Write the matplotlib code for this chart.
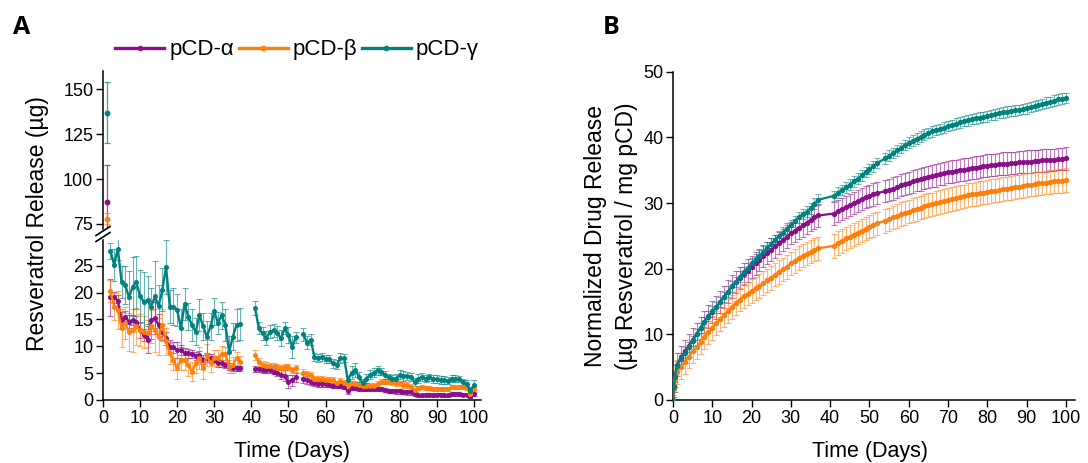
import numpy as np
import pandas as pd
import matplotlib
matplotlib.use("Agg")
import matplotlib.pyplot as plt
from matplotlib.lines import Line2D

plt.rcParams['font.family'] = ['Liberation Sans', 'DejaVu Sans']

#####################################################################
# panel A : daily release (ug), days 2-37, 41-52, 54-100 ; day 1 on the upper axis
days_a = np.concatenate([np.arange(2, 38), np.arange(41, 53), np.arange(54, 101)])

day1_alpha, day1_alpha_err = 87, 21
day1_beta, day1_beta_err = 78, 3
day1_gamma, day1_gamma_err = 137, 17

alpha_a = [19.1, 19.1, 18.5, 14.9, 15.5, 14.6, 14.9, 14.6, 13.0, 12.1,
           11.2, 14.9, 15.2, 14.0, 12.7, 11.5, 9.9, 9.8, 9.3, 9.3,
           8.7, 8.7, 8.6, 8.2, 8.4, 7.5, 7.8, 7.8, 7.5, 6.8,
           6.8, 6.5, 6.2, 5.9, 5.9, 5.9,
           5.8, 5.7, 5.6, 5.6, 5.5, 5.3, 5.1, 4.7, 4.5, 3.4, 3.7, 4.2,
           4.0, 3.7, 3.4, 3.1, 3.0, 3.0, 2.9, 2.8, 2.7, 2.6,
           2.6, 2.5, 1.6, 2.2, 2.2, 2.1, 2.1, 2.1, 2.0, 2.0,
           2.1, 2.0, 1.9, 1.7, 1.7, 1.6, 1.6, 1.5, 1.4, 1.4,
           1.1, 0.9, 0.9, 1.0, 1.0, 0.9, 1.0, 1.0, 0.9, 0.9,
           1.1, 1.2, 1.1, 1.0, 1.0, 0.6, 1.1]
alpha_a_err = [3.5, 1.0, 1.0, 1.5, 1.0, 1.2, 1.0, 1.0, 1.5, 1.2,
               2.5, 3.5, 3.0, 2.0, 1.5, 1.2, 1.2, 1.0, 1.5, 1.0,
               1.0, 0.8, 0.8, 0.8, 0.8, 0.8, 0.8, 0.7, 0.7, 0.7,
               0.7, 0.6, 0.6, 0.5, 0.5, 0.5,
               0.5, 0.5, 0.5, 0.5, 0.5, 0.5, 0.6, 0.8, 1.0, 1.2, 1.0, 0.8,
               0.8, 0.7, 0.6, 0.5, 0.5, 0.5, 0.4, 0.4, 0.4, 0.4,
               0.4, 0.4, 0.5, 0.4, 0.4, 0.4, 0.4, 0.4, 0.4, 0.4,
               0.4, 0.4, 0.4, 0.4, 0.4, 0.4, 0.4, 0.4, 0.4, 0.4,
               0.3, 0.3, 0.3, 0.3, 0.3, 0.3, 0.3, 0.3, 0.3, 0.3,
               0.3, 0.3, 0.3, 0.3, 0.3, 0.4, 0.4]

beta_a = [20.3, 17.4, 16.8, 13.4, 14.3, 12.7, 13.0, 13.7, 13.0, 12.7,
          12.4, 13.7, 13.0, 11.8, 14.0, 10.9, 8.7, 7.5, 5.9, 7.5,
          7.5, 6.5, 5.3, 6.8, 7.8, 5.9, 8.4, 6.8, 7.8, 7.8,
          8.6, 8.6, 6.2, 6.5, 7.8, 7.0,
          8.4, 7.1, 6.5, 6.4, 6.3, 6.3, 6.1, 5.9, 6.1, 6.1, 5.6, 5.9,
          5.0, 4.8, 4.7, 4.0, 3.9, 3.9, 3.7, 3.7, 3.7, 3.1,
          3.6, 3.2, 2.8, 3.1, 3.0, 2.8, 2.7, 2.7, 2.7, 2.7,
          3.0, 3.4, 3.4, 3.4, 3.3, 3.1, 3.1, 2.8, 2.8, 2.5,
          1.9, 2.2, 2.4, 2.3, 2.2, 2.1, 2.1, 2.0, 2.0, 2.1,
          2.4, 2.4, 2.4, 2.4, 2.3, 1.2, 2.0]
beta_a_err = [2.0, 2.5, 3.5, 3.5, 3.0, 3.5, 4.0, 3.5, 3.0, 3.0,
              2.5, 3.0, 4.0, 3.5, 3.0, 2.5, 2.0, 2.0, 2.0, 2.0,
              2.0, 2.0, 1.8, 1.8, 2.0, 2.0, 2.0, 1.5, 1.5, 1.5,
              1.5, 1.2, 1.2, 1.5, 1.2, 1.2,
              1.0, 0.8, 0.7, 0.7, 0.6, 0.6, 0.6, 0.6, 0.6, 0.6, 0.6, 0.6,
              0.7, 0.6, 0.6, 0.5, 0.5, 0.5, 0.5, 0.5, 0.5, 0.5,
              0.5, 0.5, 0.5, 0.5, 0.5, 0.5, 0.5, 0.5, 0.5, 0.5,
              0.5, 0.5, 0.5, 0.5, 0.5, 0.5, 0.5, 0.5, 0.5, 0.5,
              0.4, 0.4, 0.4, 0.4, 0.4, 0.4, 0.4, 0.4, 0.4, 0.4,
              0.4, 0.4, 0.4, 0.4, 0.4, 0.4, 0.5]

gamma_a = [27.8, 25.2, 28.1, 22.0, 21.4, 19.1, 21.1, 21.9, 19.3, 18.3,
           18.6, 17.4, 19.3, 17.5, 20.5, 24.8, 17.4, 17.4, 16.8, 13.4,
           17.9, 15.5, 14.0, 12.7, 15.8, 13.7, 11.8, 13.7, 16.5, 14.3,
           15.8, 14.0, 9.0, 11.8, 14.0, 14.2,
           17.1, 13.4, 12.4, 11.5, 12.7, 13.0, 12.4, 11.5, 13.4, 12.1, 9.9, 11.7,
           12.2, 10.7, 11.2, 8.0, 7.8, 8.0, 7.6, 7.6, 6.8, 6.6,
           7.8, 7.8, 3.7, 5.1, 5.6, 4.3, 3.1, 4.0, 4.7, 5.1,
           5.5, 5.3, 4.7, 4.2, 4.0, 4.0, 4.7, 4.5, 4.5, 4.3,
           3.4, 4.0, 4.3, 4.0, 4.2, 3.9, 3.9, 3.7, 3.7, 3.6,
           4.0, 4.0, 3.9, 3.4, 3.0, 1.6, 2.8]
gamma_a_err = [1.5, 3.0, 2.0, 3.0, 3.5, 5.0, 5.5, 5.0, 5.0, 5.5,
               4.5, 3.5, 6.5, 4.0, 4.0, 5.0, 3.0, 3.5, 3.0, 3.5,
               3.0, 2.5, 3.0, 2.5, 3.0, 2.5, 3.0, 2.5, 2.5, 2.0,
               2.5, 3.0, 3.0, 2.5, 3.0, 3.0,
               1.3, 1.2, 1.2, 1.3, 1.2, 1.2, 1.3, 1.5, 1.2, 1.5, 2.0, 1.0,
               1.2, 1.2, 1.0, 0.8, 0.8, 0.7, 0.7, 0.7, 0.8, 0.8,
               0.9, 0.8, 0.8, 1.2, 1.3, 0.9, 0.8, 0.9, 0.8, 0.8,
               0.8, 0.7, 0.7, 0.7, 0.7, 0.8, 0.8, 0.9, 0.7, 0.7,
               0.7, 0.8, 0.7, 0.7, 0.7, 0.7, 0.7, 0.7, 0.7, 0.7,
               0.6, 0.6, 0.6, 0.6, 0.7, 0.8, 0.9]

#####################################################################
# panel B : normalized cumulative release (ug / mg pCD)
days_b = np.concatenate([[0, 0.25, 0.5], np.arange(1, 38), np.arange(41, 53), np.arange(54, 101)])

alpha_b = [0, 2.2, 3.7,
           5.4, 6.5, 7.4, 8.3, 9.2, 10.1, 11.0, 11.9, 12.7, 13.4,
           14.1, 14.9, 15.7, 16.5, 17.3, 18.0, 18.6, 19.2, 19.7, 20.3,
           20.8, 21.3, 21.9, 22.4, 22.9, 23.4, 23.9, 24.4, 24.9, 25.4,
           25.8, 26.2, 26.6, 27.0, 27.4, 27.8, 28.1,
           28.4, 28.8, 29.1, 29.4, 29.7, 30.0, 30.3, 30.6, 30.9, 31.1, 31.3, 31.5,
           31.8, 32.0, 32.2, 32.4, 32.7, 32.9, 33.1, 33.3, 33.5, 33.6,
           33.8, 34.0, 34.1, 34.2, 34.4, 34.5, 34.7, 34.8, 34.9, 35.0,
           35.1, 35.2, 35.3, 35.4, 35.5, 35.6, 35.7, 35.8, 35.8, 35.9,
           36.0, 36.0, 36.1, 36.1, 36.2, 36.2, 36.3, 36.3, 36.4, 36.4,
           36.5, 36.5, 36.6, 36.6, 36.7, 36.7, 36.8]
beta_b = [0, 1.6, 3.0,
          4.3, 5.0, 5.8, 6.6, 7.4, 8.1, 8.8, 9.6, 10.3, 11.0,
          11.7, 12.3, 12.9, 13.6, 14.2, 14.8, 15.3, 15.8, 16.2, 16.6,
          17.0, 17.4, 17.8, 18.2, 18.6, 19.1, 19.5, 19.9, 20.3, 20.8,
          21.2, 21.6, 22.0, 22.3, 22.6, 22.9, 23.1,
          23.5, 23.9, 24.2, 24.6, 24.9, 25.2, 25.5, 25.8, 26.1, 26.4, 26.7, 26.9,
          27.3, 27.5, 27.8, 28.0, 28.3, 28.5, 28.7, 28.9, 29.1, 29.3,
          29.5, 29.7, 29.8, 30.0, 30.2, 30.3, 30.5, 30.6, 30.8, 30.9,
          31.0, 31.2, 31.3, 31.4, 31.5, 31.6, 31.7, 31.8, 31.9, 32.0,
          32.1, 32.2, 32.3, 32.4, 32.5, 32.6, 32.7, 32.8, 32.9, 33.0,
          33.0, 33.1, 33.2, 33.3, 33.4, 33.4, 33.5]
gamma_b = [0, 2.0, 3.5,
           5.2, 6.3, 7.2, 8.1, 9.0, 10.0, 11.0, 11.9, 12.8, 13.5,
           14.1, 14.9, 15.7, 16.5, 17.3, 18.0, 18.8, 19.5, 20.1, 20.8,
           21.4, 22.0, 22.6, 23.2, 23.8, 24.4, 25.0, 25.5, 26.1, 26.6,
           27.2, 27.8, 28.3, 28.7, 29.2, 29.9, 30.5,
           31.1, 31.6, 32.0, 32.4, 32.8, 33.3, 33.7, 34.2, 34.7, 35.2, 35.6, 36.1,
           36.8, 37.2, 37.6, 38.0, 38.4, 38.8, 39.2, 39.5, 39.8, 40.1,
           40.4, 40.7, 40.9, 41.1, 41.3, 41.5, 41.7, 41.9, 42.1, 42.3,
           42.5, 42.6, 42.8, 42.9, 43.0, 43.1, 43.2, 43.4, 43.5, 43.7,
           43.8, 43.9, 44.0, 44.1, 44.2, 44.3, 44.4, 44.6, 44.8, 44.9,
           45.1, 45.3, 45.4, 45.6, 45.8, 45.9, 46.0]
alpha_b_err = 1.7
beta_b_err = 1.8
gamma_b_err = 0.8

labels = ['pCD-\u03b1', 'pCD-\u03b2', 'pCD-\u03b3']
colors = ['#8b0f8b', '#ff7f0a', '#00827f']

#####################################################################
fig = plt.figure(figsize=(10.88, 4.63), dpi=100)
W, H = 1088, 463

def fx(px):
    return px / W

def fy(py):
    return 1 - py / H

ax_lo = fig.add_axes([fx(103), fy(400), fx(481) - fx(103), fy(240) - fy(400)])
ax_hi = fig.add_axes([fx(103), fy(229), fx(481) - fx(103), fy(71) - fy(229)])
ax_b = fig.add_axes([fx(673), fy(400), fx(1075) - fx(673), fy(71.7) - fy(400)])

full_days = np.arange(2, 101)
series_a = [(alpha_a, alpha_a_err), (beta_a, beta_a_err), (gamma_a, gamma_a_err)]
day1 = [(day1_alpha, day1_alpha_err), (day1_beta, day1_beta_err), (day1_gamma, day1_gamma_err)]

def lighten(eb, a):
    for c in eb.lines[2]:
        c.set_alpha(a)
    for cap in eb.lines[1]:
        cap.set_alpha(a)

for (vals, errs), (v1, e1), c in zip(series_a, day1, colors):
    # reindex so the missing days break the line
    s = pd.Series(vals, index=days_a).reindex(full_days)
    e = pd.Series(errs, index=days_a).reindex(full_days)
    eb = ax_lo.errorbar(full_days, s.values, yerr=e.values, color=c, ecolor=c, elinewidth=0.8,
                        capsize=2.5, capthick=0.8, lw=1.7, marker='o', ms=2.6, zorder=3)
    lighten(eb, 0.6)
    eb = ax_hi.errorbar([1], [v1], yerr=[e1], color=c, ecolor=c, elinewidth=0.9,
                        capsize=2.5, capthick=0.9, marker='o', ms=3.2, lw=0, zorder=3)
    lighten(eb, 0.75)

ax_lo.set_xlim(0, 101.9)
ax_hi.set_xlim(0, 101.9)
ax_lo.set_ylim(0, 29.8)
ax_hi.set_ylim(72.2, 160.2)
ax_lo.set_yticks([0, 5, 10, 15, 20, 25])
ax_hi.set_yticks([75, 100, 125, 150])
ax_lo.set_xticks(range(0, 101, 10))

ax_hi.spines['bottom'].set_visible(False)
ax_hi.tick_params(axis='x', bottom=False, labelbottom=False)
for ax in (ax_lo, ax_hi, ax_b):
    ax.spines['top'].set_visible(False)
    ax.spines['right'].set_visible(False)
    ax.tick_params(direction='out', length=5, width=1, labelsize=13, pad=2)
    for sp in ax.spines.values():
        sp.set_linewidth(1.1)
    ax.patch.set_alpha(0)

# break marks on the left spine
for yc in (231, 237):
    fig.add_artist(Line2D([fx(96), fx(110)], [fy(yc + 4.5), fy(yc - 4.5)],
                          color='black', lw=1.2, transform=fig.transFigure))

# panel B
series_b = [(alpha_b, alpha_b_err), (beta_b, beta_b_err), (gamma_b, gamma_b_err)]
for (vals, err), c in zip(series_b, colors):
    eb = ax_b.errorbar(days_b, vals, yerr=err, color=c, ecolor=c, elinewidth=0.8,
                       capsize=2.5, capthick=0.8, lw=1.6, marker='o', ms=2.8, zorder=3)
    lighten(eb, 0.55)

ax_b.set_xlim(0, 102.3)
ax_b.set_ylim(0, 50)
ax_b.set_xticks(range(0, 101, 10))
ax_b.set_yticks(range(0, 51, 10))

# labels
fig.text(fx(38), fy(224), 'Resveratrol Release (\u00b5g)', rotation=90, ha='center', va='center', fontsize=16.5)
fig.text(fx(292), fy(452), 'Time (Days)', ha='center', va='center', fontsize=15.5)
fig.text(fx(870), fy(452), 'Time (Days)', ha='center', va='center', fontsize=15.5)
fig.text(fx(611), fy(236), 'Normalized Drug Release\n(\u00b5g Resveratrol / mg pCD)', rotation=90,
         ha='center', va='center', fontsize=16.5, linespacing=1.4, multialignment='center')

fig.text(fx(13), fy(27), 'A', fontsize=18, fontweight='bold', family='Open Sans', va='center')
fig.text(fx(603), fy(27), 'B', fontsize=18, fontweight='bold', family='Open Sans', va='center')

handles = [Line2D([], [], color=c, lw=2.4, marker='o', ms=3) for c in colors]
fig.legend(handles, labels, loc='center', bbox_to_anchor=(fx(297), fy(50)), ncol=3, frameon=False,
           fontsize=16, handlelength=2.2, handletextpad=0.22, columnspacing=0.22, borderaxespad=0)

fig.savefig('out.png', dpi=100)
